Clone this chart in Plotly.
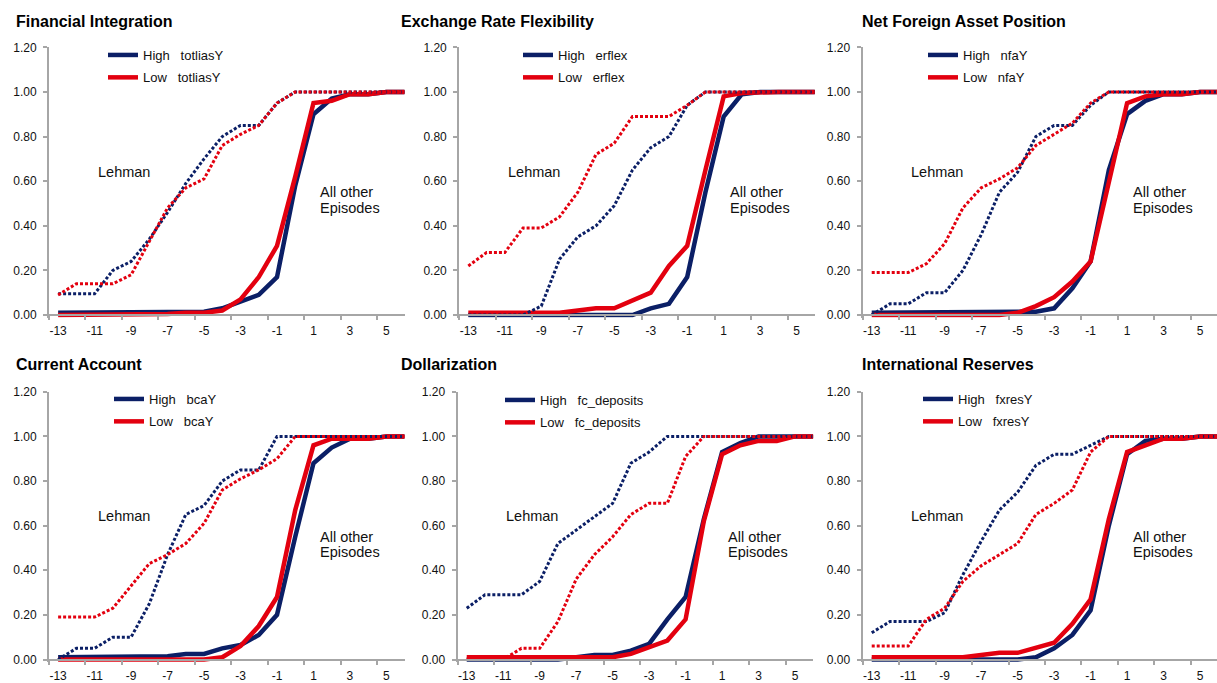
import plotly.graph_objects as go

# Months relative to the episode (t = 0)
periods = list(range(-13, 7))
x_tick_values = list(range(-13, 6, 2))
x_tick_labels = [str(v) for v in x_tick_values]
y_tick_values = [0.0, 0.2, 0.4, 0.6, 0.8, 1.0, 1.2]

# Financial Integration (totliasY)
fin_high = [0.01, 0.01, 0.01, 0.01, 0.01, 0.01, 0.01, 0.01, 0.015, 0.03, 0.06, 0.09, 0.17, 0.58, 0.90, 0.97, 0.99, 0.99, 1.00, 1.00]
fin_low = [0.0, 0.0, 0.0, 0.0, 0.0, 0.0, 0.005, 0.01, 0.01, 0.02, 0.07, 0.17, 0.31, 0.62, 0.95, 0.96, 0.99, 0.99, 1.00, 1.00]
fin_high_lehman = [0.095, 0.095, 0.095, 0.20, 0.24, 0.34, 0.46, 0.59, 0.70, 0.80, 0.85, 0.85, 0.95, 1.0, 1.0, 1.0, 1.0, 1.0, 1.0, 1.0]
fin_low_lehman = [0.09, 0.14, 0.14, 0.14, 0.18, 0.33, 0.48, 0.57, 0.61, 0.76, 0.81, 0.85, 0.95, 1.0, 1.0, 1.0, 1.0, 1.0, 1.0, 1.0]

# Exchange Rate Flexibility (erflex)
erf_high = [0.0, 0.0, 0.0, 0.0, 0.0, 0.0, 0.0, 0.0, 0.0, 0.0, 0.03, 0.05, 0.17, 0.55, 0.89, 0.99, 1.0, 1.0, 1.0, 1.0]
erf_low = [0.01, 0.01, 0.01, 0.01, 0.01, 0.01, 0.02, 0.03, 0.03, 0.065, 0.10, 0.22, 0.31, 0.65, 0.98, 0.995, 1.0, 1.0, 1.0, 1.0]
erf_high_lehman = [0.0, 0.0, 0.0, 0.0, 0.04, 0.25, 0.35, 0.40, 0.49, 0.65, 0.75, 0.80, 0.94, 1.0, 1.0, 1.0, 1.0, 1.0, 1.0, 1.0]
erf_low_lehman = [0.22, 0.28, 0.28, 0.39, 0.39, 0.44, 0.55, 0.72, 0.77, 0.89, 0.89, 0.89, 0.94, 1.0, 1.0, 1.0, 1.0, 1.0, 1.0, 1.0]

# Net Foreign Asset Position (nfaY)
nfa_high = [0.01, 0.01, 0.01, 0.01, 0.01, 0.01, 0.01, 0.01, 0.01, 0.015, 0.03, 0.12, 0.24, 0.65, 0.90, 0.96, 0.99, 0.99, 1.0, 1.0]
nfa_low = [0.0, 0.0, 0.0, 0.0, 0.0, 0.0, 0.0, 0.0, 0.01, 0.04, 0.08, 0.15, 0.24, 0.59, 0.95, 0.98, 0.99, 0.99, 1.0, 1.0]
nfa_high_lehman = [0.0, 0.05, 0.05, 0.10, 0.10, 0.20, 0.36, 0.55, 0.64, 0.80, 0.85, 0.85, 0.94, 1.0, 1.0, 1.0, 1.0, 1.0, 1.0, 1.0]
nfa_low_lehman = [0.19, 0.19, 0.19, 0.23, 0.32, 0.48, 0.57, 0.61, 0.66, 0.76, 0.81, 0.86, 0.95, 1.0, 1.0, 1.0, 1.0, 1.0, 1.0, 1.0]

# Current Account (bcaY)
bca_high = [0.01, 0.01, 0.01, 0.01, 0.01, 0.01, 0.015, 0.025, 0.025, 0.05, 0.065, 0.11, 0.20, 0.55, 0.88, 0.95, 0.99, 0.99, 1.0, 1.0]
bca_low = [0.0, 0.0, 0.0, 0.0, 0.0, 0.0, 0.0, 0.0, 0.0, 0.01, 0.06, 0.15, 0.28, 0.67, 0.96, 0.99, 0.99, 0.99, 1.0, 1.0]
bca_high_lehman = [0.0, 0.05, 0.05, 0.10, 0.10, 0.25, 0.47, 0.65, 0.69, 0.80, 0.85, 0.85, 1.0, 1.0, 1.0, 1.0, 1.0, 1.0, 1.0, 1.0]
bca_low_lehman = [0.19, 0.19, 0.19, 0.23, 0.33, 0.43, 0.47, 0.52, 0.61, 0.76, 0.81, 0.85, 0.90, 1.0, 1.0, 1.0, 1.0, 1.0, 1.0, 1.0]

# Dollarization (fc_deposits)
fcd_high = [0.0, 0.0, 0.0, 0.0, 0.0, 0.0, 0.01, 0.02, 0.02, 0.04, 0.07, 0.18, 0.28, 0.63, 0.93, 0.97, 1.0, 1.0, 1.0, 1.0]
fcd_low = [0.01, 0.01, 0.01, 0.01, 0.01, 0.01, 0.01, 0.01, 0.01, 0.025, 0.055, 0.085, 0.18, 0.62, 0.92, 0.96, 0.98, 0.98, 1.0, 1.0]
fcd_high_lehman = [0.23, 0.29, 0.29, 0.29, 0.35, 0.52, 0.58, 0.64, 0.70, 0.88, 0.93, 1.0, 1.0, 1.0, 1.0, 1.0, 1.0, 1.0, 1.0, 1.0]
fcd_low_lehman = [0.0, 0.0, 0.0, 0.05, 0.05, 0.17, 0.36, 0.47, 0.55, 0.65, 0.70, 0.70, 0.91, 1.0, 1.0, 1.0, 1.0, 1.0, 1.0, 1.0]

# International Reserves (fxresY)
fxr_high = [0.0, 0.0, 0.0, 0.0, 0.0, 0.0, 0.0, 0.0, 0.0, 0.01, 0.05, 0.11, 0.22, 0.60, 0.92, 0.98, 0.99, 0.99, 1.0, 1.0]
fxr_low = [0.01, 0.01, 0.01, 0.01, 0.01, 0.01, 0.02, 0.03, 0.03, 0.055, 0.075, 0.16, 0.27, 0.63, 0.93, 0.96, 0.99, 0.99, 1.0, 1.0]
fxr_high_lehman = [0.12, 0.17, 0.17, 0.17, 0.21, 0.38, 0.53, 0.67, 0.75, 0.87, 0.92, 0.92, 0.96, 1.0, 1.0, 1.0, 1.0, 1.0, 1.0, 1.0]
fxr_low_lehman = [0.06, 0.06, 0.06, 0.18, 0.23, 0.35, 0.42, 0.47, 0.52, 0.65, 0.70, 0.76, 0.93, 1.0, 1.0, 1.0, 1.0, 1.0, 1.0, 1.0]

panel_titles = ["Financial Integration", "Exchange Rate Flexibility", "Net Foreign Asset Position",
                "Current Account", "Dollarization", "International Reserves"]
variable_names = ["totliasY", "erflex", "nfaY", "bcaY", "fc_deposits", "fxresY"]
panel_series = [
    (fin_high, fin_low, fin_high_lehman, fin_low_lehman),
    (erf_high, erf_low, erf_high_lehman, erf_low_lehman),
    (nfa_high, nfa_low, nfa_high_lehman, nfa_low_lehman),
    (bca_high, bca_low, bca_high_lehman, bca_low_lehman),
    (fcd_high, fcd_low, fcd_high_lehman, fcd_low_lehman),
    (fxr_high, fxr_low, fxr_high_lehman, fxr_low_lehman),
]

# ---- page geometry (pixels) ----
W, H = 1217, 683
NAVY = "#0B1F66"
RED = "#E3000F"
AXIS_GREY = "#A6A6A6"
FONT = "Liberation Sans, Arial, sans-serif"

cat_px = 18.24             # width of one month on the x axis
x_left = [49.0, 459.2, 862.6, 49.0, 457.6, 862.6]   # left edge (-13.5) of each panel
row_zero = [315.0, 659.5]  # pixel row of y = 0
row_top = [47.3, 391.8]    # pixel row of y = 1.2
y_pad = 0.012              # small room below zero so thick lines at 0 are not cut
title_pos = [(14, 21), (399, 21), (860, 21), (14, 364), (399, 364), (860, 364)]
legend_left = [103, 518, 923, 109, 500, 918]
legend_top = [40, 40, 40, 384, 385, 384]

fig = go.Figure()
layout = dict(
    width=W, height=H, margin=dict(l=0, r=0, t=0, b=0, pad=0, autoexpand=False),
    paper_bgcolor="white", plot_bgcolor="white", font=dict(family=FONT, color="#111111"),
    annotations=[], showlegend=True,
)

for i in range(6):
    n = i + 1
    sfx = "" if n == 1 else str(n)
    row = 0 if i < 3 else 1
    xa, ya = f"x{sfx}", f"y{sfx}"
    leg = f"legend{sfx}"
    high, low, high_l, low_l = panel_series[i]
    var = variable_names[i]

    fig.add_trace(go.Scatter(x=periods, y=high, mode="lines", xaxis=xa, yaxis=ya,
                             line=dict(color=NAVY, width=4.5), name=f"High\u00a0\u00a0\u00a0{var}",
                             legend=leg, legendgroup=f"h{n}", hoverinfo="skip"))
    fig.add_trace(go.Scatter(x=periods, y=low, mode="lines", xaxis=xa, yaxis=ya,
                             line=dict(color=RED, width=4.5), name=f"Low\u00a0\u00a0\u00a0{var}",
                             legend=leg, legendgroup=f"l{n}", hoverinfo="skip"))
    fig.add_trace(go.Scatter(x=periods, y=high_l, mode="lines", xaxis=xa, yaxis=ya,
                             line=dict(color=NAVY, width=3, dash="3px,2px"), showlegend=False,
                             hoverinfo="skip"))
    fig.add_trace(go.Scatter(x=periods, y=low_l, mode="lines", xaxis=xa, yaxis=ya,
                             line=dict(color=RED, width=3, dash="3px,2px"), showlegend=False,
                             hoverinfo="skip"))

    # axes domains from pixel geometry
    x0 = x_left[i]
    x1 = min(W, x0 + 19.5 * cat_px)
    x_end = -13.5 + (x1 - x0) / cat_px
    px_per_unit = (row_zero[row] - row_top[row]) / 1.2
    y_bottom_px = row_zero[row] + y_pad * px_per_unit
    ydom = [(H - y_bottom_px) / H, (H - row_top[row]) / H]
    zero_pos = (H - row_zero[row]) / H

    layout[f"xaxis{sfx}"] = dict(
        domain=[x0 / W, x1 / W], range=[-13.5, x_end], anchor="free", position=zero_pos,
        showline=True, linecolor=AXIS_GREY, linewidth=2, showgrid=False, zeroline=False,
        tickmode="array", tickvals=x_tick_values, ticktext=x_tick_labels, ticks="",
        ticklabelstandoff=5, tickfont=dict(size=12, family=FONT, color="#111111"),
        minor=dict(tickmode="array", tickvals=[v - 0.5 for v in x_tick_values],
                   ticks="outside", ticklen=4, tickcolor=AXIS_GREY, tickwidth=1.5, showgrid=False),
        fixedrange=True, automargin=False,
    )
    layout[f"yaxis{sfx}"] = dict(
        domain=ydom, range=[-y_pad, 1.2], anchor=xa,
        showline=True, linecolor=AXIS_GREY, linewidth=2, showgrid=False, zeroline=False,
        tickmode="array", tickvals=y_tick_values, tickformat=".2f",
        ticks="outside", ticklen=4, tickcolor=AXIS_GREY, tickwidth=1.5,
        ticklabelstandoff=4, tickfont=dict(size=12, family=FONT, color="#111111"),
        fixedrange=True, automargin=False,
    )
    layout[leg] = dict(
        x=legend_left[i] / W, y=(H - legend_top[i]) / H, xanchor="left", yanchor="top",
        bgcolor="rgba(0,0,0,0)", borderwidth=0, tracegroupgap=2.5,
        font=dict(size=13, family=FONT, color="#111111"),
    )

    tx, ty = title_pos[i]
    layout["annotations"].append(dict(
        text=panel_titles[i], xref="paper", yref="paper", x=tx / W, y=(H - ty) / H,
        xanchor="left", yanchor="middle", showarrow=False,
        font=dict(size=16, family=FONT, color="#000000", weight="bold"),
    ))
    for txt, ax_x, ax_y in [("Lehman", -10.93, 0.643), ("All other", 1.23, 0.551), ("Episodes", 1.23, 0.48)]:
        layout["annotations"].append(dict(
            text=txt, xref=xa, yref=ya, x=ax_x, y=ax_y, xanchor="left", yanchor="middle",
            showarrow=False, font=dict(size=14.5, family=FONT, color="#111111"),
        ))

fig.update_layout(**layout)
fig.write_html("out.html")
